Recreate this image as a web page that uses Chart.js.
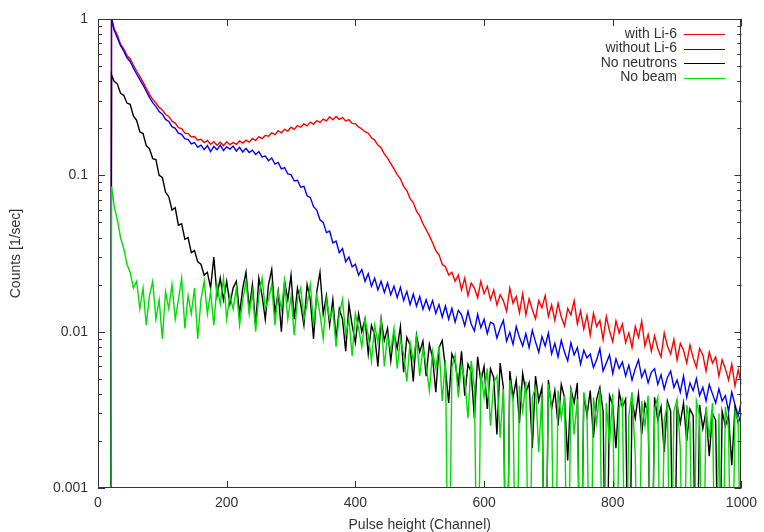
<!DOCTYPE html>
<html>
<head>
<meta charset="utf-8">
<script src="https://cdn.jsdelivr.net/npm/chart.js@4.4.1/dist/chart.umd.min.js"></script>
<style>
  html, body { margin: 0; padding: 0; background: #fff; }
  canvas { display: block; }
</style>
</head>
<body>
<canvas id="spectrum" width="764" height="532"></canvas>
<script>
// pulse height channels (first point sits below the threshold)
const channels = [
  20, 21, 25, 30, 35, 40, 45, 50, 55, 60,
  65, 70, 75, 80, 85, 90, 95, 100, 105, 110,
  115, 120, 125, 130, 135, 140, 145, 150, 155, 160,
  165, 170, 175, 180, 185, 190, 195, 200, 205, 210,
  215, 220, 225, 230, 235, 240, 245, 250, 255, 260,
  265, 270, 275, 280, 285, 290, 295, 300, 305, 310,
  315, 320, 325, 330, 335, 340, 345, 350, 355, 360,
  365, 370, 375, 380, 385, 390, 395, 400, 405, 410,
  415, 420, 425, 430, 435, 440, 445, 450, 455, 460,
  465, 470, 475, 480, 485, 490, 495, 500, 505, 510,
  515, 520, 525, 530, 535, 540, 545, 550, 555, 560,
  565, 570, 575, 580, 585, 590, 595, 600, 605, 610,
  615, 620, 625, 630, 635, 640, 645, 650, 655, 660,
  665, 670, 675, 680, 685, 690, 695, 700, 705, 710,
  715, 720, 725, 730, 735, 740, 745, 750, 755, 760,
  765, 770, 775, 780, 785, 790, 795, 800, 805, 810,
  815, 820, 825, 830, 835, 840, 845, 850, 855, 860,
  865, 870, 875, 880, 885, 890, 895, 900, 905, 910,
  915, 920, 925, 930, 935, 940, 945, 950, 955, 960,
  965, 970, 975, 980, 985, 990, 995, 1000
];

// counts per second
const withLi6 = [
  0.0001, 1.02, 0.87, 0.79, 0.69, 0.645, 0.585, 0.555, 0.505, 0.465,
  0.43, 0.395, 0.36, 0.33, 0.306, 0.29, 0.272, 0.262, 0.245, 0.238,
  0.222, 0.216, 0.202, 0.199, 0.186, 0.185, 0.176, 0.177, 0.168, 0.17,
  0.162, 0.167, 0.158, 0.164, 0.156, 0.163, 0.155, 0.164, 0.157, 0.162,
  0.158, 0.166, 0.161, 0.168, 0.163, 0.172, 0.167, 0.177, 0.172, 0.18,
  0.178, 0.187, 0.182, 0.193, 0.187, 0.197, 0.192, 0.203, 0.197, 0.208,
  0.203, 0.213, 0.207, 0.219, 0.212, 0.224, 0.218, 0.229, 0.223, 0.237,
  0.227, 0.238, 0.228, 0.234, 0.223, 0.227, 0.215, 0.214, 0.204, 0.198,
  0.19, 0.186, 0.174, 0.168, 0.156, 0.15, 0.137, 0.129, 0.119, 0.11,
  0.101, 0.095, 0.085, 0.08, 0.071, 0.067, 0.059, 0.055, 0.049, 0.045,
  0.041, 0.037, 0.033, 0.031, 0.027, 0.026, 0.023, 0.024, 0.021, 0.023,
  0.0185, 0.022, 0.017, 0.0205, 0.019, 0.0165, 0.021, 0.0175, 0.0195, 0.016,
  0.0185, 0.0148, 0.0172, 0.0158, 0.0135, 0.019, 0.0152, 0.0168, 0.0132, 0.0175,
  0.0128, 0.0162, 0.0138, 0.0121, 0.0158, 0.0142, 0.017, 0.0125, 0.0148, 0.0118,
  0.0152, 0.0124, 0.0109, 0.0141, 0.0128, 0.0158, 0.0112, 0.0136, 0.0104, 0.0127,
  0.0095, 0.0131, 0.0108, 0.0118, 0.0089, 0.0125, 0.0101, 0.0086, 0.0117, 0.0098,
  0.0112, 0.0085, 0.0098, 0.0079, 0.0108, 0.0092, 0.0117, 0.0081, 0.0096, 0.0075,
  0.0094, 0.0078, 0.0069, 0.0098, 0.0081, 0.0072, 0.0089, 0.0066, 0.0084, 0.0076,
  0.0063, 0.0082, 0.0068, 0.0059, 0.0078, 0.0071, 0.0056, 0.0074, 0.0063, 0.0069,
  0.0052, 0.0066, 0.0058, 0.0049, 0.0062, 0.0045, 0.0057, 0.0046
];

const withoutLi6 = [
  0.0001, 1.0, 0.85, 0.76, 0.675, 0.625, 0.565, 0.535, 0.485, 0.445,
  0.41, 0.378, 0.345, 0.315, 0.292, 0.275, 0.256, 0.246, 0.228, 0.221,
  0.205, 0.2, 0.186, 0.183, 0.171, 0.17, 0.159, 0.162, 0.151, 0.156,
  0.146, 0.155, 0.142, 0.153, 0.146, 0.156, 0.144, 0.152, 0.147, 0.154,
  0.143, 0.151, 0.141, 0.149, 0.14, 0.145, 0.136, 0.142, 0.131, 0.133,
  0.124, 0.129, 0.118, 0.121, 0.11, 0.112, 0.102, 0.101, 0.092, 0.093,
  0.084, 0.085, 0.074, 0.072, 0.063, 0.06, 0.052, 0.05, 0.043, 0.044,
  0.037, 0.038, 0.032, 0.034, 0.028, 0.03, 0.026, 0.027, 0.023, 0.025,
  0.021, 0.0235, 0.0195, 0.022, 0.0185, 0.021, 0.0178, 0.0205, 0.0172, 0.0195,
  0.0165, 0.0192, 0.0158, 0.0181, 0.0149, 0.0174, 0.0146, 0.0168, 0.0139, 0.016,
  0.0138, 0.0158, 0.0131, 0.0149, 0.0124, 0.0146, 0.012, 0.0141, 0.0115, 0.0137,
  0.0128, 0.0109, 0.0135, 0.0112, 0.0101, 0.0129, 0.0106, 0.012, 0.0097, 0.0115,
  0.0112, 0.0091, 0.0105, 0.0118, 0.0087, 0.0099, 0.0083, 0.0108, 0.0092, 0.0081,
  0.0097, 0.0079, 0.0102, 0.0086, 0.0074, 0.0093, 0.0081, 0.0098, 0.0072, 0.0084,
  0.0069, 0.0088, 0.0074, 0.0065, 0.0085, 0.0071, 0.0079, 0.0062, 0.0076, 0.0068,
  0.0072, 0.0059, 0.0066, 0.0078, 0.0056, 0.0063, 0.0071, 0.0054, 0.0067, 0.0058,
  0.0064, 0.0052, 0.0061, 0.0049, 0.0058, 0.0066, 0.0051, 0.0057, 0.0047, 0.0055,
  0.0058, 0.0046, 0.0053, 0.0043, 0.0051, 0.0056, 0.0044, 0.0049, 0.0041, 0.0052,
  0.0038, 0.0047, 0.0042, 0.005, 0.0039, 0.0044, 0.0036, 0.0046, 0.004, 0.0035,
  0.0043, 0.0036, 0.0039, 0.0031, 0.0041, 0.0034, 0.0029, 0.0036
];

const noNeutrons = [
  0.0001, 0.44, 0.4, 0.385, 0.335, 0.325, 0.29, 0.285, 0.24, 0.225,
  0.19, 0.185, 0.155, 0.148, 0.128, 0.126, 0.1, 0.097, 0.078, 0.073,
  0.06, 0.062, 0.048, 0.049, 0.039, 0.04, 0.032, 0.033, 0.028, 0.027,
  0.023, 0.024, 0.019, 0.03, 0.017, 0.022, 0.016, 0.021, 0.015, 0.019,
  0.021, 0.013, 0.019, 0.024, 0.014, 0.02, 0.011, 0.022, 0.017, 0.012,
  0.02, 0.025, 0.013, 0.018, 0.01, 0.021, 0.016, 0.023, 0.012, 0.019,
  0.015, 0.011, 0.02, 0.016, 0.009, 0.018, 0.024, 0.013, 0.017, 0.011,
  0.016, 0.009, 0.014, 0.012, 0.0075, 0.015, 0.011, 0.0085, 0.013, 0.01,
  0.012, 0.0072, 0.011, 0.0095, 0.006, 0.012, 0.0088, 0.0105, 0.0065, 0.0098,
  0.0078, 0.0108, 0.0055, 0.0092, 0.0082, 0.0048, 0.0095, 0.0074, 0.0087, 0.0052,
  0.0083, 0.0068, 0.0041, 0.0079, 0.0088, 0.0058, 0.0035, 0.0072, 0.0064, 0.0046,
  0.0075, 0.0039, 0.0062, 0.0055, 0.0028, 0.0069, 0.0048, 0.006, 0.0032, 0.0058,
  0.0051, 0.0022, 0.0063, 0.0044, 0.0001, 0.0056, 0.0038, 0.0049, 0.0026, 0.0054,
  0.0041, 0.0047, 0.0018, 0.0052, 0.0036, 0.0044, 0.0001, 0.0049, 0.0032, 0.0042,
  0.0025, 0.0046, 0.0038, 0.0015, 0.0043, 0.0035, 0.0047, 0.0001, 0.004, 0.0029,
  0.0042, 0.0021, 0.0037, 0.0044, 0.0031, 0.0001, 0.0039, 0.0034, 0.0018, 0.0041,
  0.0033, 0.0037, 0.0001, 0.0036, 0.0028, 0.004, 0.0022, 0.0035, 0.003, 0.0001,
  0.0038, 0.0027, 0.0033, 0.0017, 0.0036, 0.0031, 0.0001, 0.0034, 0.0026, 0.0035,
  0.002, 0.0032, 0.0029, 0.0001, 0.0034, 0.0024, 0.0031, 0.0016, 0.003, 0.0027,
  0.0001, 0.0031, 0.0025, 0.0029, 0.0014, 0.0033, 0.0026, 0.003
];

const noBeam = [
  0.0001, 0.085, 0.064, 0.052, 0.04, 0.034, 0.027, 0.024, 0.019, 0.021,
  0.014, 0.019, 0.011, 0.017, 0.021, 0.012, 0.016, 0.009, 0.018, 0.014,
  0.02, 0.012, 0.016, 0.022, 0.0105, 0.017, 0.013, 0.019, 0.009, 0.016,
  0.021, 0.013, 0.018, 0.011, 0.02, 0.015, 0.022, 0.012, 0.017, 0.014,
  0.019, 0.011, 0.016, 0.021, 0.013, 0.018, 0.01, 0.017, 0.022, 0.014,
  0.016, 0.02, 0.011, 0.018, 0.014, 0.021, 0.012, 0.017, 0.0095, 0.016,
  0.019, 0.012, 0.015, 0.02, 0.011, 0.017, 0.013, 0.009, 0.016, 0.012,
  0.014, 0.008, 0.013, 0.016, 0.0095, 0.012, 0.007, 0.013, 0.0105, 0.008,
  0.012, 0.0095, 0.0065, 0.011, 0.0085, 0.012, 0.006, 0.0095, 0.0075, 0.0105,
  0.0058, 0.009, 0.0072, 0.0048, 0.0085, 0.0065, 0.0092, 0.0052, 0.0078, 0.0061,
  0.0042, 0.0075, 0.0058, 0.0081, 0.0036, 0.0066, 0.0001, 0.0059, 0.0071, 0.0038,
  0.0062, 0.0049, 0.0028, 0.0065, 0.0044, 0.0001, 0.0055, 0.0038, 0.0058, 0.0025,
  0.0047, 0.0052, 0.0021, 0.0043, 0.0001, 0.0049, 0.0036, 0.0001, 0.0045, 0.0031,
  0.0048, 0.0001, 0.0038, 0.0044, 0.0017, 0.004, 0.0001, 0.0046, 0.0033, 0.0001,
  0.0042, 0.0028, 0.0039, 0.0001, 0.0044, 0.0022, 0.0037, 0.0001, 0.0041, 0.0031,
  0.0001, 0.0038, 0.0026, 0.0043, 0.0001, 0.0035, 0.0019, 0.004, 0.0001, 0.0033,
  0.0037, 0.0001, 0.0029, 0.0041, 0.0016, 0.0001, 0.0036, 0.0025, 0.0039, 0.0001,
  0.0032, 0.0038, 0.0001, 0.0027, 0.0035, 0.0001, 0.0031, 0.0037, 0.0018, 0.0001,
  0.0034, 0.0026, 0.0001, 0.0036, 0.0029, 0.0001, 0.0033, 0.0021, 0.0035, 0.0001,
  0.003, 0.0001, 0.0033, 0.0024, 0.0001, 0.0031, 0.0027, 0.0001
];

const seriesNames = ['with Li-6', 'without Li-6', 'No neutrons', 'No beam'];
const seriesColors = ['#ff0000', '#0000ff', '#000000', '#00dd00'];
const xTicks = [0, 200, 400, 600, 800, 1000];
const yTicks = [0.001, 0.01, 0.1, 1];
const yTickLabels = ['0.001', '0.01', '0.1', '1'];
const xTitle = 'Pulse height (Channel)';
const yTitle = 'Counts [1/sec]';

const FONT = '"Liberation Sans", Arial, sans-serif';
const INK = '#333';

function points(values) {
  return channels.map((c, i) => ({ x: c, y: values[i] }));
}

// border, inward tics, key and axis titles in gnuplot style
const gnuplotFrame = {
  id: 'gnuplotFrame',
  afterDraw(chart) {
    const { ctx, chartArea: a } = chart;
    const xs = chart.scales.x, ys = chart.scales.y;
    ctx.save();
    ctx.strokeStyle = INK;
    ctx.lineWidth = 1;
    ctx.strokeRect(Math.round(a.left) + 0.5, Math.round(a.top) + 0.5,
      Math.round(a.right - a.left) - 1, Math.round(a.bottom - a.top) - 1);

    ctx.beginPath();
    xTicks.forEach(v => {
      const px = Math.round(xs.getPixelForValue(v)) + 0.5;
      ctx.moveTo(px, a.bottom); ctx.lineTo(px, a.bottom - 7);
      ctx.moveTo(px, a.top); ctx.lineTo(px, a.top + 7);
    });
    yTicks.forEach(v => {
      const py = Math.round(ys.getPixelForValue(v)) + 0.5;
      ctx.moveTo(a.left, py); ctx.lineTo(a.left + 7, py);
      ctx.moveTo(a.right, py); ctx.lineTo(a.right - 7, py);
    });
    [0.001, 0.01, 0.1].forEach(base => {
      for (let k = 2; k <= 9; k++) {
        const py = Math.round(ys.getPixelForValue(k * base)) + 0.5;
        ctx.moveTo(a.left, py); ctx.lineTo(a.left + 4, py);
        ctx.moveTo(a.right, py); ctx.lineTo(a.right - 4, py);
      }
    });
    ctx.stroke();

    // key
    ctx.font = '14px ' + FONT;
    ctx.fillStyle = INK;
    ctx.textAlign = 'right';
    ctx.textBaseline = 'middle';
    seriesNames.forEach((name, i) => {
      const y = 34 + i * 14.5;
      ctx.fillText(name, 677, y);
      ctx.strokeStyle = seriesColors[i];
      ctx.beginPath();
      ctx.moveTo(684, Math.round(y) + 0.5);
      ctx.lineTo(725, Math.round(y) + 0.5);
      ctx.stroke();
    });

    // axis titles
    ctx.textAlign = 'center';
    ctx.fillText(xTitle, (a.left + a.right) / 2, 525);
    ctx.translate(16, (a.top + a.bottom) / 2);
    ctx.rotate(-Math.PI / 2);
    ctx.fillText(yTitle, 0, 0);
    ctx.restore();
  }
};

var ctx = document.getElementById('spectrum');
var spectrumChart = new Chart(ctx, {
  type: 'line',
  data: {
    datasets: [withLi6, withoutLi6, noNeutrons, noBeam].map((values, i) => ({
      label: seriesNames[i],
      data: points(values),
      borderColor: seriesColors[i],
      borderWidth: 1.4,
      pointRadius: 0,
      tension: 0,
      order: 4 - i
    }))
  },
  options: {
    responsive: false,
    animation: false,
    events: [],
    layout: { padding: { left: 0, right: 16, top: 19, bottom: 0 } },
    plugins: {
      legend: { display: false },
      tooltip: { enabled: false }
    },
    scales: {
      x: {
        type: 'linear',
        min: 0,
        max: 1000,
        grid: { display: false, drawTicks: false },
        border: { display: false },
        afterBuildTicks: s => { s.ticks = xTicks.map(v => ({ value: v })); },
        afterFit: s => { s.height = 44; },
        ticks: {
          padding: 7,
          maxRotation: 0,
          color: INK,
          font: { family: FONT, size: 14 },
          callback: v => String(v)
        }
      },
      y: {
        type: 'logarithmic',
        min: 0.001,
        max: 1,
        grid: { display: false, drawTicks: false },
        border: { display: false },
        afterBuildTicks: s => { s.ticks = yTicks.map(v => ({ value: v })); },
        afterFit: s => { s.width = 98; },
        ticks: {
          padding: 10,
          color: INK,
          font: { family: FONT, size: 14 },
          callback: (v, i) => yTickLabels[i]
        }
      }
    }
  },
  plugins: [gnuplotFrame]
});
</script>
</body>
</html>
